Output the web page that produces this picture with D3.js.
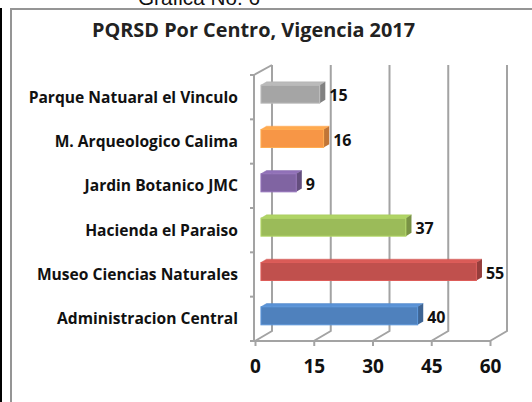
<!DOCTYPE html>
<html><head><meta charset="utf-8">
<script src="https://cdn.jsdelivr.net/npm/d3@7/dist/d3.min.js"></script>
<style>
html,body{margin:0;padding:0;background:#fff;}
svg{display:block;}
</style></head>
<body>
<svg id="c" width="532" height="402"></svg>
<script>
const categories = ["Parque Natuaral el Vinculo","M. Arqueologico Calima","Jardin Botanico JMC","Hacienda el Paraiso","Museo Ciencias Naturales","Administracion Central"];
const values = [15, 16, 9, 37, 55, 40];
const colors = ["#a5a5a5","#f79646","#8064a2","#9bbb59","#c0504d","#4f81bd"];
const tickValues = [0, 15, 30, 45, 60];
const titleText = "PQRSD Por Centro, Vigencia 2017";
const captionText = "Grafica No. 6";

(function(){
const svg = d3.select("#c");
const FONT = "'Open Sans', Lato, sans-serif";

// outer decorations
svg.append("rect").attr("x",0).attr("y",8).attr("width",2).attr("height",394).attr("fill","#000");
svg.append("path").attr("d","M11,402V9H532").attr("fill","none").attr("stroke","#959595").attr("stroke-width",2);
svg.append("text").attr("x",199).attr("y",5).attr("text-anchor","middle")
  .attr("font-family","'Liberation Sans', Arial, sans-serif").attr("font-size",20).attr("fill","#111")
  .attr("textLength",122).attr("lengthAdjust","spacingAndGlyphs").text(captionText);

// title
svg.append("text").attr("x",253.5).attr("y",37).attr("text-anchor","middle")
  .attr("font-family",FONT).attr("font-weight",700).attr("font-size",19).attr("fill","#222")
  .attr("textLength",323).attr("lengthAdjust","spacingAndGlyphs").text(titleText);

// scales
const x = d3.scaleLinear().domain([0,60]).range([255,490]);
const y = d3.scaleBand().domain(categories).range([75,341]).padding(0);
const DX = 17, DY = -10; // depth vector
const grid = "#a3a3a3";

const yBot = y.range()[1], yTop = y.range()[0];
const g = svg.append("g");
tickValues.forEach(t => {
  const xf = x(t);
  g.append("path").attr("d",`M${xf},${yBot}L${xf+DX},${yBot+DY}V${yTop+DY}`)
    .attr("fill","none").attr("stroke",grid).attr("stroke-width",2);
});
g.append("path").attr("d",`M${x(0)-1},${yTop}L${x(0)+DX},${yTop+DY}`).attr("fill","none").attr("stroke",grid).attr("stroke-width",2);
g.append("path").attr("d",`M${x(0)-1},${yTop}V${yBot}`).attr("fill","none").attr("stroke",grid).attr("stroke-width",2);
g.append("path").attr("d",`M${x(0)-5},${yBot}H${x(60)}`).attr("fill","none").attr("stroke",grid).attr("stroke-width",2);
const bounds = categories.map(c => y(c)).concat([yBot]);
bounds.forEach(b => g.append("path").attr("d",`M${x(0)-5},${b}H${x(0)-1}`).attr("stroke",grid).attr("stroke-width",2));

// x axis via d3
const xAxis = d3.axisBottom(x).tickValues(tickValues).tickSize(5).tickPadding(14).tickFormat(d3.format("d"));
const xa = svg.append("g").attr("transform",`translate(0,${yBot})`).call(xAxis);
xa.select(".domain").remove();
xa.selectAll(".tick line").attr("stroke",grid).attr("stroke-width",2);
xa.selectAll(".tick text").attr("font-family",FONT).attr("font-weight",700).attr("font-size",19).attr("fill","#111").attr("dy","0.71em");

// y axis labels via d3
const yAxis = d3.axisLeft(y).tickSize(0).tickPadding(0);
const ya = svg.append("g").attr("transform",`translate(238,0)`).call(yAxis);
ya.select(".domain").remove();
ya.selectAll(".tick text").attr("font-family",FONT).attr("font-weight",700).attr("font-size",15.6).attr("fill","#111").attr("dy","0.36em");

// 3D bars
const d0 = 0.35, d1 = 0.68;
const bh = 18;
const bars = svg.append("g");
categories.forEach((c,i) => {
  const col = d3.color(colors[i]);
  const ox = DX*d0, oy = DY*d0;
  const bx = DX*(d1-d0), by = DY*(d1-d0);
  const x0 = x(0)+ox, x1 = x(values[i])+ox;
  const yc = y(c) + y.bandwidth()/2 + oy + 0.5;
  const y0 = yc - bh/2, y1 = yc + bh/2;
  bars.append("path").attr("d",`M${x0},${y0}L${x0+bx},${y0+by}H${x1+bx}L${x1},${y0}Z`)
    .attr("fill",col.brighter(0.35)).attr("stroke",col.brighter(0.2)).attr("stroke-width",0.5);
  bars.append("path").attr("d",`M${x1},${y0}L${x1+bx},${y0+by}V${y1+by}L${x1},${y1}Z`)
    .attr("fill",col.darker(0.7));
  bars.append("rect").attr("x",x0).attr("y",y0).attr("width",x1-x0).attr("height",bh)
    .attr("fill",col).attr("stroke",col.brighter(0.4)).attr("stroke-width",1);
  bars.append("text").attr("x",x1+bx+4).attr("y",yc+1.5).attr("dy","0.36em")
    .attr("font-family",FONT).attr("font-weight",700).attr("font-size",16).attr("fill","#111").text(values[i]);
});
})();
</script>
</body></html>
